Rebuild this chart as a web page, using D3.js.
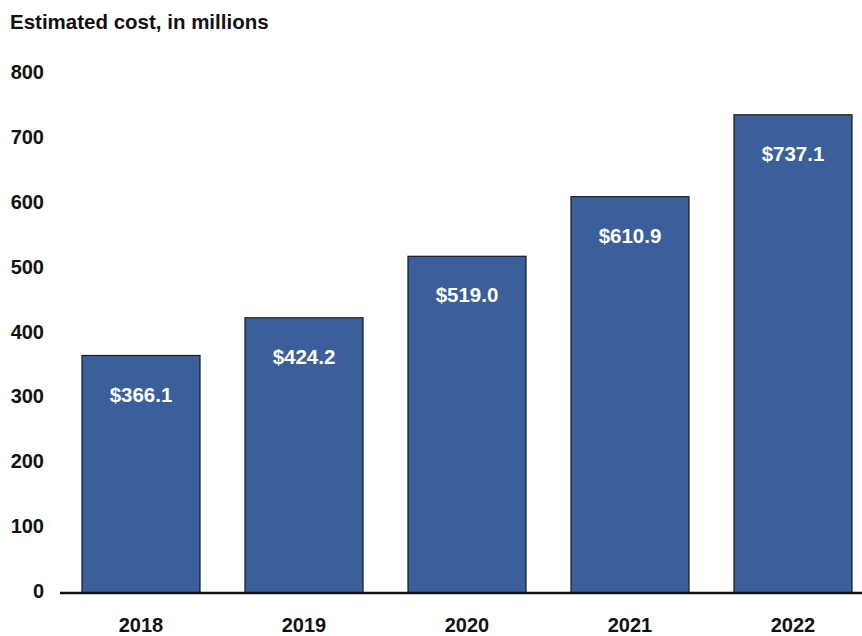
<!DOCTYPE html>
<html>
<head>
<meta charset="utf-8">
<script src="https://cdn.jsdelivr.net/npm/d3@7"></script>
<style>
  body { margin: 0; background: #fff; }
  svg { display: block; font-family: "Liberation Sans", Arial, sans-serif; }
</style>
</head>
<body>
<div id="chart"></div>
<script>
const years = ['2018', '2019', '2020', '2021', '2022'];
const costs = [366.1, 424.2, 519.0, 610.9, 737.1];
const yTicks = [0, 100, 200, 300, 400, 500, 600, 700, 800];

const width = 862, height = 636;
const x0 = 59.5, baseY = 593, topY = 74;

const svg = d3.select('#chart').append('svg')
  .attr('width', width)
  .attr('height', height);

const x = d3.scaleBand()
  .domain(years)
  .range([x0, x0 + 163 * years.length])
  .paddingInner(0.276)
  .paddingOuter(0.138);

const y = d3.scaleLinear()
  .domain([0, 800])
  .range([baseY, topY]);

// title
svg.append('text')
  .attr('x', 10)
  .attr('y', 29)
  .attr('font-size', 20.5)
  .attr('font-weight', 'bold')
  .attr('fill', '#111')
  .text('Estimated cost, in millions');

// y tick labels
svg.append('g')
  .selectAll('text')
  .data(yTicks).enter()
  .append('text')
  .attr('x', 44)
  .attr('y', d => y(d) - 2)
  .attr('dy', '0.35em')
  .attr('text-anchor', 'end')
  .attr('font-size', 20)
  .attr('font-weight', 'bold')
  .attr('fill', '#111')
  .text(d => d);

// bars
const bars = svg.append('g')
  .selectAll('g')
  .data(years.map((yr, i) => ({ year: yr, value: costs[i] })))
  .enter().append('g');

bars.append('rect')
  .attr('x', d => x(d.year))
  .attr('y', d => y(d.value))
  .attr('width', x.bandwidth())
  .attr('height', d => baseY - y(d.value))
  .attr('fill', '#3a5f9b')
  .attr('stroke', '#1a1a1a')
  .attr('stroke-width', 1.2);

bars.append('text')
  .attr('x', d => x(d.year) + x.bandwidth() / 2)
  .attr('y', d => y(d.value) + 39)
  .attr('dy', '0.35em')
  .attr('text-anchor', 'middle')
  .attr('font-size', 20.5)
  .attr('font-weight', 'bold')
  .attr('fill', '#fff')
  .text(d => '$' + d.value.toFixed(1));

// baseline
svg.append('line')
  .attr('x1', 60)
  .attr('x2', width)
  .attr('y1', baseY)
  .attr('y2', baseY)
  .attr('stroke', '#111')
  .attr('stroke-width', 2.5);

// x axis labels
svg.append('g')
  .selectAll('text')
  .data(years).enter()
  .append('text')
  .attr('x', d => x(d) + x.bandwidth() / 2)
  .attr('y', 625)
  .attr('dy', '0.35em')
  .attr('text-anchor', 'middle')
  .attr('font-size', 20)
  .attr('font-weight', 'bold')
  .attr('fill', '#111')
  .text(d => d);
</script>
</body>
</html>
